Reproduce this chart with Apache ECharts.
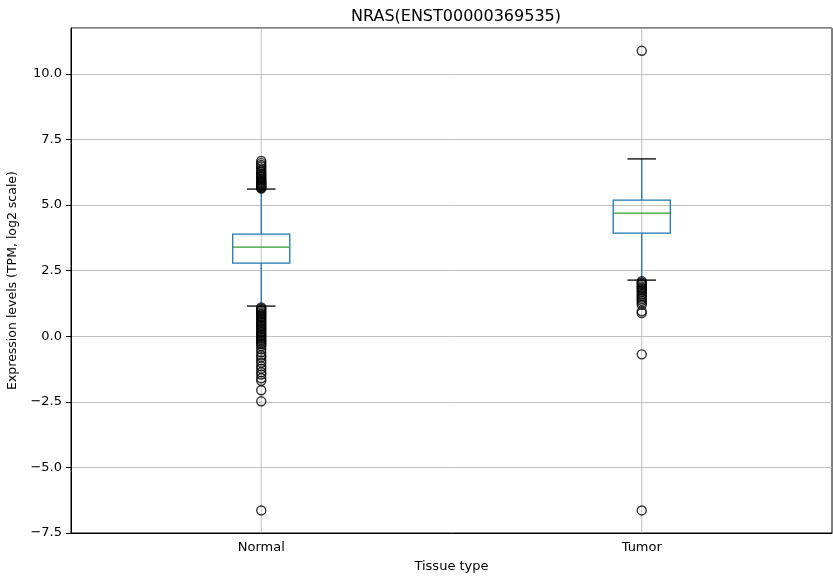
<!DOCTYPE html>
<html>
<head>
<meta charset="utf-8">
<script src="https://cdn.jsdelivr.net/npm/echarts@6/dist/echarts.min.js"></script>
<style>
  html, body { margin: 0; padding: 0; background: #fff; }
  #main { width: 833px; height: 576px; }
</style>
</head>
<body>
<div id="main"></div>
<script>
// tissue groups and their box statistics: [min whisker, Q1, median, Q3, max whisker]
const categories = ["Normal", "Tumor"];
const normalBox = [1.15, 2.79, 3.40, 3.89, 5.61];
const tumorBox = [2.14, 3.93, 4.69, 5.19, 6.76];

// outliers
const normalFliers = [
  5.63, 5.66, 5.70, 5.73, 5.75, 5.79, 5.82, 5.85, 5.89, 5.93, 5.97, 6.01, 6.06,
  6.11, 6.16, 6.21, 6.27, 6.33, 6.40, 6.47, 6.53, 6.60, 6.68,
  1.10, 1.06, 1.01, 0.96, 0.91, 0.86, 0.82, 0.76, 0.71, 0.66, 0.61, 0.55, 0.51,
  0.45, 0.40, 0.36, 0.30, 0.26, 0.19, 0.15, 0.09, 0.04, 0.00, -0.06, -0.11,
  -0.16, -0.21, -0.27, -0.31, -0.38, -0.50, -0.61, -0.73, -0.80, -0.92, -1.01,
  -1.15, -1.24, -1.37, -1.46, -1.60, -1.70, -2.06, -2.48, -6.64
];
const tumorFliers = [
  10.88, 2.10, 2.05, 2.00, 1.96, 1.90, 1.85, 1.80, 1.74, 1.68, 1.61, 1.55,
  1.48, 1.42, 1.35, 1.28, 1.20, 0.95, 0.88, -0.69, -6.64
];

const yTicks = [-7.5, -5.0, -2.5, 0.0, 2.5, 5.0, 7.5, 10.0];
const yMin = -7.5;
const yMax = 11.75;

const chart = echarts.init(document.getElementById('main'));

const fmt = v => (v < 0 ? '\u2212' : '') + Math.abs(v).toFixed(1);

const flierData = [];
normalFliers.forEach(v => flierData.push([0, v]));
tumorFliers.forEach(v => flierData.push([1, v]));

chart.setOption({
  animation: false,
  textStyle: { fontFamily: 'DejaVu Sans' },
  title: {
    text: 'NRAS(ENST00000369535)',
    left: 451,
    textAlign: 'center',
    top: 4,
    textStyle: { fontSize: 16, fontWeight: 'normal', color: '#000', fontFamily: 'DejaVu Sans' }
  },
  grid: {
    left: 71, right: 1, top: 28, bottom: 43,
    outerBoundsMode: 'none',
    containLabel: false,
    show: true, borderColor: '#000', borderWidth: 1
  },
  xAxis: {
    type: 'category',
    data: categories,
    boundaryGap: true,
    name: 'Tissue type',
    nameLocation: 'middle',
    nameGap: 27,
    nameTextStyle: { fontSize: 13, color: '#000' },
    axisLine: { onZero: false, lineStyle: { color: '#000', width: 1 } },
    axisTick: { alignWithLabel: true, length: 5, lineStyle: { color: '#000' } },
    axisLabel: { fontSize: 13, color: '#000', margin: 8 },
    splitLine: { show: false }
  },
  yAxis: {
    type: 'value',
    min: yMin,
    max: yMax,
    interval: 2.5,
    name: 'Expression levels (TPM, log2 scale)',
    nameLocation: 'middle',
    nameGap: 45,
    nameTextStyle: { fontSize: 12.5, color: '#000' },
    axisLine: { show: true, lineStyle: { color: '#000', width: 1 } },
    axisTick: { show: true, length: 5, lineStyle: { color: '#000' } },
    axisLabel: {
      fontSize: 13, color: '#000', margin: 9, showMaxLabel: false,
      formatter: v => (yTicks.some(t => Math.abs(t - v) < 1e-6) ? fmt(v) : '')
    },
    splitLine: { show: true, lineStyle: { color: '#b0b0b0', width: 0.8 } }
  },
  series: [
    {
      type: 'custom',
      name: 'boxes',
      data: [
        [0].concat(normalBox),
        [1].concat(tumorBox)
      ],
      encode: { x: 0, y: [1, 2, 3, 4, 5] },
      z: 3,
      renderItem: function (params, api) {
        const c = api.value(0);
        const xc = api.coord([c, api.value(3)])[0];
        const yLo = api.coord([c, api.value(1)])[1];
        const yQ1 = api.coord([c, api.value(2)])[1];
        const yMed = api.coord([c, api.value(3)])[1];
        const yQ3 = api.coord([c, api.value(4)])[1];
        const yHi = api.coord([c, api.value(5)])[1];
        const yTop = api.coord([c, yMax])[1];
        const yBot = api.coord([c, yMin])[1];
        const band = api.size([1, 0])[0];
        const bw = band * 0.15;
        const cw = bw / 2;
        const blue = '#1f77b4';
        return {
          type: 'group',
          children: [
            { type: 'line', z2: 0, shape: { x1: xc, y1: yTop, x2: xc, y2: yBot },
              style: { stroke: '#b0b0b0', lineWidth: 0.8 } },
            { type: 'line', z2: 1, shape: { x1: xc, y1: yQ3, x2: xc, y2: yHi },
              style: { stroke: blue, lineWidth: 1.3 } },
            { type: 'line', z2: 1, shape: { x1: xc, y1: yQ1, x2: xc, y2: yLo },
              style: { stroke: blue, lineWidth: 1.3 } },
            { type: 'rect', z2: 2, shape: { x: xc - bw / 2, y: yQ3, width: bw, height: yQ1 - yQ3 },
              style: { fill: 'none', stroke: blue, lineWidth: 1.3 } },
            { type: 'line', z2: 2, shape: { x1: xc - bw / 2, y1: yMed, x2: xc + bw / 2, y2: yMed },
              style: { stroke: '#2ca02c', lineWidth: 1.3 } },
            { type: 'line', z2: 2, shape: { x1: xc - cw / 2, y1: yHi, x2: xc + cw / 2, y2: yHi },
              style: { stroke: '#000', lineWidth: 1.3 } },
            { type: 'line', z2: 2, shape: { x1: xc - cw / 2, y1: yLo, x2: xc + cw / 2, y2: yLo },
              style: { stroke: '#000', lineWidth: 1.3 } }
          ]
        };
      }
    },
    {
      type: 'scatter',
      name: 'fliers',
      data: flierData,
      symbol: 'circle',
      symbolSize: 9,
      z: 4,
      itemStyle: { color: 'rgba(0,0,0,0)', borderColor: '#000', borderWidth: 1.4 },
      emphasis: { disabled: true }
    }
  ]
});
</script>
</body>
</html>
